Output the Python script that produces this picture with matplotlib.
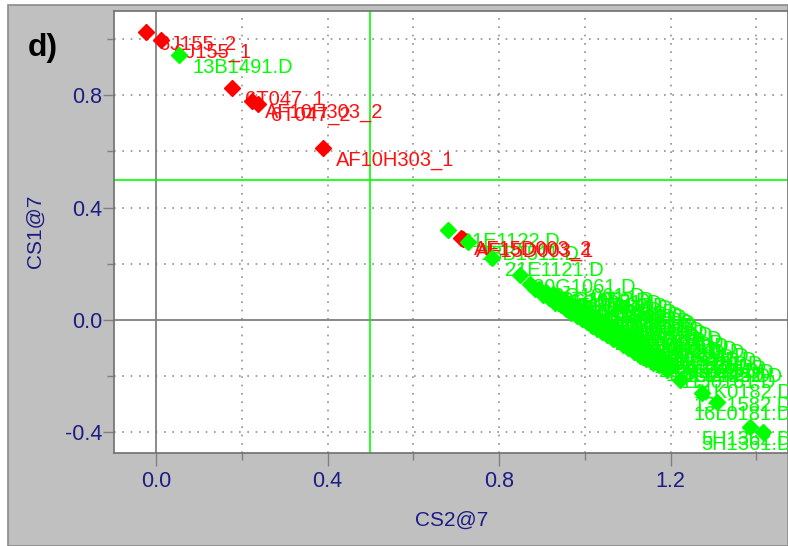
import matplotlib
matplotlib.use("Agg")
import matplotlib.pyplot as plt
from matplotlib.patches import Rectangle
from matplotlib.ticker import MultipleLocator

plt.rcParams['font.family'] = ['Liberation Sans', 'DejaVu Sans']

# ---------------- data ----------------
red_x = [-0.023, 0.012, 0.178, 0.224, 0.238, 0.390, 0.712, 0.716]
red_y = [1.025, 0.996, 0.826, 0.780, 0.770, 0.612, 0.292, 0.288]
red_labels = ["6J155_2", "6J155_1", "6T047_1", "AF10H303_2", "6T047_2",
              "AF10H303_1", "AF15D003_2", "AF15D003_1"]

green_x = [0.054, 0.681, 0.727, 0.783, 0.848,
           0.872, 0.884, 0.893, 0.902, 0.910, 0.917, 0.925, 0.931, 0.938, 0.944,
           0.951, 0.957, 0.963, 0.969, 0.975, 0.981, 0.987, 0.993, 0.999, 1.005,
           1.011, 1.017, 1.023, 1.029, 1.035, 1.041, 1.047, 1.053, 1.059, 1.065,
           1.071, 1.077, 1.083, 1.089, 1.095, 1.101, 1.108, 1.115, 1.122, 1.129,
           1.136, 1.143, 1.150, 1.158, 1.166, 1.174, 1.183, 1.192, 1.202,
           1.222, 1.273, 1.308, 1.386, 1.416]
green_y = [0.943, 0.322, 0.277, 0.220, 0.160,
           0.128, 0.110, 0.112, 0.090, 0.101, 0.078, 0.092, 0.062, 0.083, 0.052,
           0.070, 0.040, 0.058, 0.026, 0.050, 0.016, 0.038, 0.004, 0.030, -0.008,
           0.018, -0.020, 0.006, -0.030, -0.004, -0.043, -0.014, -0.054, -0.028, -0.066,
           -0.040, -0.076, -0.050, -0.089, -0.062, -0.100, -0.074, -0.114, -0.088, -0.127,
           -0.100, -0.140, -0.115, -0.153, -0.128, -0.160, -0.145, -0.178, -0.160,
           -0.214, -0.260, -0.292, -0.381, -0.399]
green_labels = ["13B1491.D", "21E1122.D", "13B1511.D", "21E1121.D", "20G1061.D",
                "19G1061.D", "17G1052.D", "18G1062.D", "14F1041.D", "15G1051.D",
                "16F1042.D", "12G1032.D", "13F1031.D", "19H1071.D", "20H1072.D",
                "11G1021.D", "22G1092.D", "14H1081.D", "17H1082.D", "18F1061.D",
                "15H1091.D", "21H1102.D", "12H1101.D", "23G1111.D", "16H1112.D",
                "19J1121.D", "14J1122.D", "20J1131.D", "13J1132.D", "17J1141.D",
                "22J1142.D", "18J1151.D", "15J1152.D", "11H1161.D", "21J1162.D",
                "16J1171.D", "12J1172.D", "23J1181.D", "19K1182.D", "14K1191.D",
                "20K1192.D", "13K1201.D", "17K1202.D", "22K1211.D", "18K1212.D",
                "15K1221.D", "21K1222.D", "16K1231.D", "12K1232.D", "19L1241.D",
                "14L1242.D", "20L1251.D", "11J0161.D", "13L1252.D",
                "11K0182.D", "13L1582.D", "16L0181.D", "5H1362.D", "5H1361.D"]

x_ticks = [0.0, 0.4, 0.8, 1.2]
y_ticks = [-0.4, 0.0, 0.4, 0.8]
x_label = "CS2@7"
y_label = "CS1@7"
panel_label = "d)"

# ---------------- figure ----------------
W, H = 788, 546
fig = plt.figure(figsize=(W / 100, H / 100), dpi=100, facecolor='white')
bg = Rectangle((8 / W, 0), 1 - 8 / W, 1 - 5 / H, transform=fig.transFigure,
               facecolor='#c0c0c0', edgecolor='#8a8a8a', lw=1.2, zorder=-10)
fig.add_artist(bg)

ax = fig.add_axes([114 / W, 1 - 453 / H, 1 - 114 / W, (453 - 11) / H])
ax.set_zorder(1)
ax.set_facecolor('white')
ax.set_xlim(-0.098, 1.474)
ax.set_ylim(-0.473, 1.10)

navy = '#1c1c84'
ax.xaxis.set_minor_locator(MultipleLocator(0.2))
ax.yaxis.set_minor_locator(MultipleLocator(0.2))
ax.set_xticks(x_ticks)
ax.set_xticklabels([f"{v:.1f}" for v in x_ticks])
ax.set_yticks(y_ticks)
ax.set_yticklabels([f"{v:.1f}" for v in y_ticks])
ax.tick_params(which='major', direction='out', width=1, color='#808080',
               labelsize=15.5, labelcolor=navy)
ax.tick_params(axis='y', which='major', length=8, pad=0.5)
ax.tick_params(axis='x', which='major', length=9.4, pad=3.6)
ax.tick_params(which='minor', direction='out', length=5, width=1, color='#808080')

for s in ax.spines.values():
    s.set_color('#707070')
    s.set_linewidth(1.2)

# dotted grid at every 0.2
for v in [-0.2, 0.2, 0.4, 0.6, 0.8, 1.0, 1.2, 1.4]:
    ax.axvline(v, color='#909090', lw=1.2, ls=(0, (1, 4)), zorder=1)
for v in [-0.4, -0.2, 0.2, 0.4, 0.6, 0.8, 1.0]:
    ax.axhline(v, color='#909090', lw=1.2, ls=(0, (1, 4)), zorder=1)
ax.axvline(0.0, color='#808080', lw=1.3, zorder=1.2)
ax.axhline(0.0, color='#808080', lw=1.3, zorder=1.2)
ax.axvline(0.5, color='#00ff00', lw=1.2, zorder=1.3)
ax.axhline(0.5, color='#00ff00', lw=1.2, zorder=1.3)

red_c = '#ff1010'
green_c = '#00ff00'
lab_fs = 14.5

texts = []
for x, y, t in zip(red_x, red_y, red_labels):
    texts.append(ax.annotate(t, (x, y), xytext=(9.4, -8.6), textcoords='offset points',
                             color=red_c, fontsize=lab_fs, ha='left', va='center', zorder=3))
for x, y, t in zip(green_x, green_y, green_labels):
    texts.append(ax.annotate(t, (x, y), xytext=(9.4, -8.6), textcoords='offset points',
                             color=green_c, fontsize=lab_fs, ha='left', va='center', zorder=2.9))

ax.plot(red_x, red_y, ls='none', marker='D', ms=8, color='#ff0000', mec='#ff0000', zorder=4)
ax.plot(green_x, green_y, ls='none', marker='D', ms=8, color=green_c, mec=green_c, zorder=4.1)

fig.text(452 / W, 1 - 520 / H, x_label, ha='center', va='center', fontsize=15, color=navy)
fig.text(35 / W, 1 - 231 / H, y_label, ha='center', va='center', fontsize=15, color=navy,
         rotation=90)
fig.text(42.5 / W, 1 - 48 / H, panel_label, ha='center', va='center', fontsize=23,
         fontweight='bold', color='black')

# keep labels inside the plot area on the right side
fig.canvas.draw()
renderer = fig.canvas.get_renderer()
axbox = ax.get_window_extent(renderer)
for t in texts:
    bb = t.get_window_extent(renderer)
    limit = axbox.x1 + 4
    if bb.x1 > limit:
        shift = (bb.x1 - limit) * 72 / fig.dpi
        t.xyann = (t.xyann[0] - shift, t.xyann[1])

fig.savefig('out.png', dpi=100, facecolor=fig.get_facecolor())
